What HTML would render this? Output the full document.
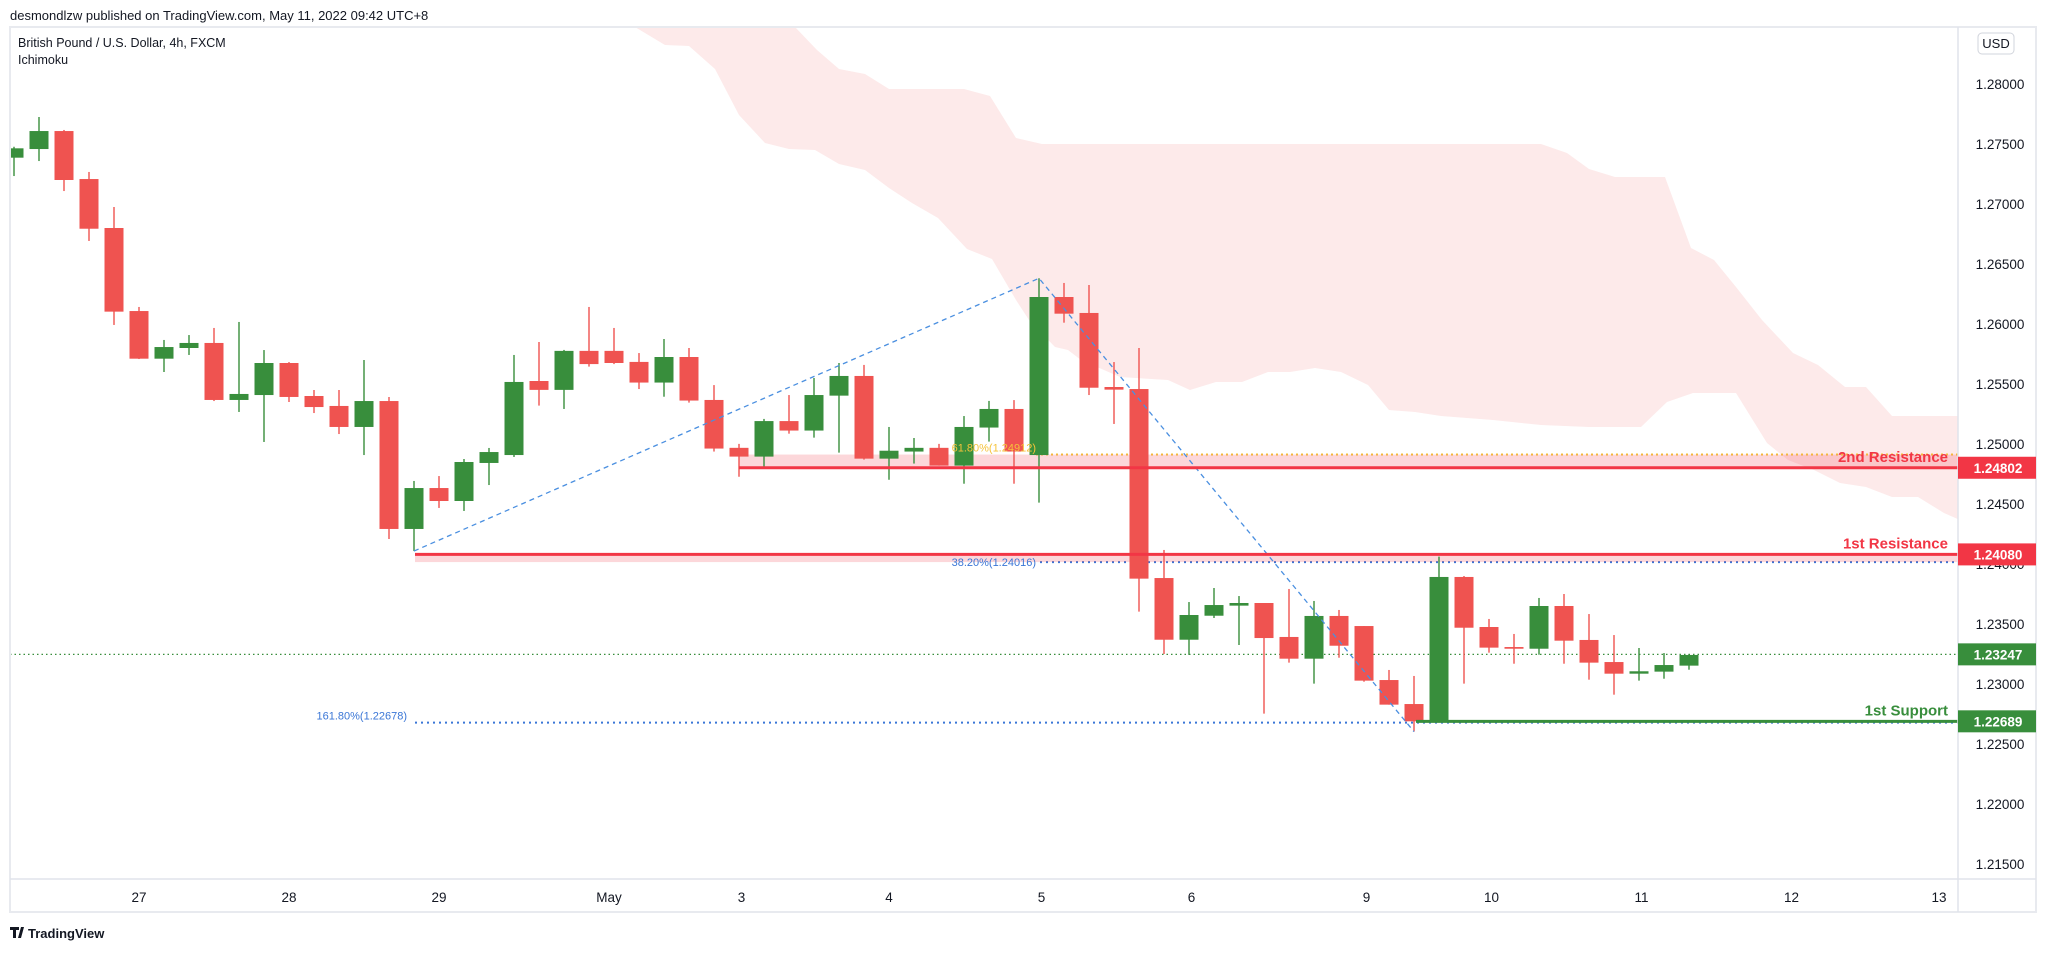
<!DOCTYPE html>
<html><head><meta charset="utf-8"><style>
html,body{margin:0;padding:0;background:#fff;}
body{width:2046px;height:950px;overflow:hidden;font-family:"Liberation Sans",sans-serif;}
svg text{font-family:"Liberation Sans",sans-serif;}
</style></head><body>
<svg id="chart" width="2046" height="950" xmlns="http://www.w3.org/2000/svg">
<text x="10" y="20" font-size="13" fill="#131722">desmondlzw published on TradingView.com, May 11, 2022 09:42 UTC+8</text>
<rect x="10" y="27" width="2026" height="885" fill="#fff" stroke="#e8eaef" stroke-width="2"/>
<defs><clipPath id="pane"><rect x="11" y="28" width="1947" height="851"/></clipPath></defs>
<g id="plot" clip-path="url(#pane)"></g>
<line x1="1958" y1="27" x2="1958" y2="912" stroke="#e0e3eb" stroke-width="1.5"/>
<line x1="10" y1="879" x2="2036" y2="879" stroke="#e0e3eb" stroke-width="1.5"/>
<g id="yaxis"></g>
<g id="xaxis"></g>
<g id="tags"></g>
<rect x="1978" y="33" width="36" height="21" rx="4" fill="#fff" stroke="#d1d4dc"/>
<text x="1996" y="48" font-size="13" fill="#131722" text-anchor="middle">USD</text>
<text x="18" y="47" font-size="12.5" fill="#131722">British Pound / U.S. Dollar, 4h, FXCM</text>
<text x="18" y="64" font-size="12.5" fill="#131722">Ichimoku</text>
<g>
<path d="M10 927h9v3h-3v8h-3v-8h-3z M21 927h3l-3 11h-3z" fill="#131722"/>
<text x="28" y="938" font-size="13" font-weight="bold" fill="#131722">TradingView</text>
</g>
</svg>
<script>
const opens=[1.27386,1.27458,1.27608,1.27208,1.26800,1.26108,1.25711,1.25800,1.25842,1.25367,1.25408,1.25675,1.25400,1.25317,1.25142,1.25358,1.24292,1.24633,1.24525,1.24842,1.24908,1.25525,1.25451,1.25776,1.25776,1.25684,1.25512,1.25725,1.25367,1.24968,1.24895,1.25191,1.25112,1.25403,1.25567,1.24878,1.24937,1.24968,1.24820,1.25137,1.25292,1.24908,1.26225,1.26092,1.25475,1.25458,1.23883,1.23369,1.23569,1.23653,1.23675,1.23392,1.23211,1.23567,1.23483,1.23033,1.22833,1.22689,1.23892,1.23475,1.23308,1.23294,1.23650,1.23367,1.23183,1.23086,1.23103,1.23153];
const highs=[1.27477,1.27725,1.27617,1.27267,1.26975,1.26142,1.25867,1.25908,1.25967,1.26017,1.25783,1.25683,1.25450,1.25450,1.25700,1.25392,1.24692,1.24733,1.24875,1.24967,1.25742,1.25850,1.25784,1.26142,1.25967,1.25758,1.25875,1.25800,1.25491,1.25001,1.25209,1.25408,1.25550,1.25675,1.25659,1.25142,1.25050,1.25001,1.25233,1.25359,1.25366,1.26381,1.26342,1.26325,1.25683,1.25800,1.24117,1.23683,1.23800,1.23733,1.23675,1.23792,1.23692,1.23617,1.23483,1.23117,1.23067,1.24061,1.23900,1.23542,1.23417,1.23717,1.23750,1.23583,1.23408,1.23300,1.23258,1.23250];
const lows=[1.27233,1.27358,1.27108,1.26692,1.25992,1.25708,1.25600,1.25742,1.25358,1.25267,1.25017,1.25350,1.25258,1.25083,1.24908,1.24208,1.24108,1.24467,1.24442,1.24658,1.24892,1.25320,1.25292,1.25645,1.25666,1.25458,1.25394,1.25345,1.24937,1.24727,1.24794,1.25086,1.25053,1.24928,1.24870,1.24702,1.24837,1.24820,1.24669,1.25020,1.24669,1.24511,1.26011,1.25408,1.25167,1.23603,1.23250,1.23242,1.23550,1.23325,1.22753,1.23178,1.23003,1.23219,1.23019,1.22828,1.22603,1.22689,1.23003,1.23261,1.23169,1.23244,1.23169,1.23036,1.22911,1.23028,1.23044,1.23119];
const closes=[1.27464,1.27608,1.27200,1.26794,1.26103,1.25711,1.25808,1.25842,1.25367,1.25417,1.25675,1.25392,1.25308,1.25142,1.25358,1.24292,1.24633,1.24525,1.24850,1.24933,1.25517,1.25451,1.25776,1.25666,1.25675,1.25512,1.25725,1.25362,1.24962,1.24895,1.25191,1.25112,1.25408,1.25567,1.24878,1.24944,1.24968,1.24820,1.25142,1.25292,1.24937,1.26225,1.26086,1.25469,1.25453,1.23878,1.23369,1.23575,1.23658,1.23675,1.23383,1.23211,1.23567,1.23319,1.23028,1.22828,1.22689,1.23892,1.23469,1.23303,1.23294,1.23650,1.23361,1.23178,1.23086,1.23106,1.23158,1.23242];
const priceTicks=["1.28000","1.27500","1.27000","1.26500","1.26000","1.25500","1.25000","1.24500","1.24000","1.23500","1.23000","1.22500","1.22000","1.21500"];
const dateLabels=["27","28","29","May","3","4","5","6","9","10","11","12","13"];
const dateIndex=[5,11,17,23.8,29.1,35,41.1,47.1,54.1,59.1,65.1,71.1,77];
// Ichimoku cloud edges: [candle index, price]
const cloudUpperIdx=[24.48,31.24,32.12,33.0,34.04,35.0,38.0,39.04,40.08,41.12,61.08,62.12,63.0,64.04,66.04,67.08,68.0,68.88,69.92,71.16,72.16,73.24,74.08,75.12,77.84];
const cloudUpperPx=[1.28533,1.28475,1.28283,1.28125,1.28083,1.27958,1.27958,1.27900,1.27550,1.27500,1.27500,1.27425,1.27292,1.27225,1.27225,1.26633,1.26533,1.26308,1.26033,1.25758,1.25658,1.25475,1.25475,1.25233,1.25233];
const cloudLowerIdx=[77.84,77.2,76.16,75.12,74.08,73.04,72.0,70.96,70.12,68.88,67.16,66.12,65.08,63.0,61.08,59.16,58.12,57.08,56.04,55.0,54.16,53.08,52.04,51.04,50.16,49.12,48.08,47.04,46.16,44.24,42.68,42.16,41.64,40.6,40.08,39.12,38.12,36.96,35.92,35.0,34.04,33.0,32.04,31.0,30.04,29.0,28.04,27.0,26.04,24.84];
const cloudLowerPx=[1.24367,1.24425,1.24558,1.24558,1.24642,1.24675,1.24783,1.24867,1.25008,1.25425,1.25425,1.25350,1.25142,1.25142,1.25158,1.25200,1.25217,1.25233,1.25267,1.25283,1.25492,1.25600,1.25633,1.25600,1.25600,1.25517,1.25517,1.25450,1.25533,1.25558,1.25700,1.25783,1.25808,1.26033,1.26200,1.26542,1.26625,1.26883,1.27008,1.27133,1.27283,1.27333,1.27450,1.27458,1.27508,1.27742,1.28125,1.28317,1.28325,1.28475];
const supportRes=[1.24802,1.24080,1.22689];
const lastPrice=1.23247;
const fibLevels=[1.24016,1.22678,1.24912];

const NS="http://www.w3.org/2000/svg";
function X(i){return 14+25*i;}
function Y(p){return 84+(1.28-p)*12000;}
function mk(tag,attrs,parent){const e=document.createElementNS(NS,tag);for(const k in attrs)e.setAttribute(k,attrs[k]);parent.appendChild(e);return e;}
const plot=document.getElementById('plot');
const RED="#ef5350",GREEN="#388e3c";

let pts=[];
for(let k=0;k<cloudUpperIdx.length;k++)pts.push(X(cloudUpperIdx[k]).toFixed(1)+","+Y(cloudUpperPx[k]).toFixed(1));
for(let k=0;k<cloudLowerIdx.length;k++)pts.push(X(cloudLowerIdx[k]).toFixed(1)+","+Y(cloudLowerPx[k]).toFixed(1));
const cloud=mk('polygon',{points:pts.join(' '),fill:"#fdeaea"},plot);



const fb1=mk('line',{x1:1040,x2:1958,y1:Y(fibLevels[0]),y2:Y(fibLevels[0]),stroke:"#3a76d6","stroke-width":2,"stroke-dasharray":"2 4"},plot);


const fb2=mk('line',{x1:415,x2:1958,y1:Y(fibLevels[1]),y2:Y(fibLevels[1]),stroke:"#3a76d6","stroke-width":2,"stroke-dasharray":"2 4"},plot);


const fb3=mk('line',{x1:1036,x2:1958,y1:Y(fibLevels[2]),y2:Y(fibLevels[2]),stroke:"#f5c33b","stroke-width":2,"stroke-dasharray":"2 3"},plot);



const z2=mk('rect',{x:739,y:Y(fibLevels[2]),width:1219,height:Y(supportRes[0])-Y(fibLevels[2]),fill:"rgba(242,54,69,0.2)"},plot);


const z1=mk('rect',{x:415,y:Y(supportRes[1]),width:1543,height:Y(fibLevels[0])-Y(supportRes[1]),fill:"rgba(242,54,69,0.2)"},plot);



const cp=mk('line',{x1:10,x2:1958,y1:Y(lastPrice),y2:Y(lastPrice),stroke:GREEN,"stroke-width":1.3,"stroke-dasharray":"1.5 3"},plot);



for(let i=0;i<opens.length;i++){
  const up=closes[i]>=opens[i],c=up?GREEN:RED,x=X(i);
  const g=mk('g',{},plot);
  
  
  mk('line',{x1:x,x2:x,y1:Y(highs[i]),y2:Y(lows[i]),stroke:c,"stroke-width":1.4},g);
  const t=Y(Math.max(opens[i],closes[i])),b=Y(Math.min(opens[i],closes[i]));
  mk('rect',{x:x-9.5,y:t,width:19,height:Math.max(b-t,1.5),fill:c},g);
}

const fl=mk('polyline',{points:X(16)+","+Y(lows[16])+" "+X(41)+","+Y(highs[41])+" "+X(56)+","+Y(lows[56]),fill:"none",stroke:"#4a8fe0","stroke-width":1.3,"stroke-dasharray":"5 4"},plot);



const srNames=['resistance-2-line','resistance-1-line','support-1-line'];
const srStart=[739,415,1416];
const srCol=["#f23645","#f23645",GREEN];
const srLabel=["2nd Resistance","1st Resistance","1st Support"];
for(let k=0;k<3;k++){
  const l=mk('line',{x1:srStart[k],x2:1958,y1:Y(supportRes[k]),y2:Y(supportRes[k]),stroke:srCol[k],"stroke-width":3},plot);
  
  
  const t=mk('text',{x:1948,y:Y(supportRes[k])-6,"text-anchor":"end","font-size":15,"font-weight":"bold",fill:srCol[k]},plot);
  t.textContent=srLabel[k];
  
  
}
const ft=[["38.20%(1.24016)",1036,Y(fibLevels[0])+4,"#3a76d6","fib-38-label"],["161.80%(1.22678)",407,Y(fibLevels[1])-3,"#3a76d6","fib-161-label"],["61.80%(1.24912)",1036,Y(fibLevels[2])-3,"#f5c33b","fib-61-label"]];
for(const f of ft){
  const t=mk('text',{x:f[1],y:f[2],"text-anchor":"end","font-size":11,fill:f[3]},plot);
  t.textContent=f[0];
  
  
}

const ya=document.getElementById('yaxis');
for(const s of priceTicks){
  const t=mk('text',{x:2000,y:Y(parseFloat(s))+5,"text-anchor":"middle","font-size":13.5,fill:"#131722"},ya);
  t.textContent=s;
  
  
}
const xa=document.getElementById('xaxis');
for(let k=0;k<dateLabels.length;k++){
  const t=mk('text',{x:X(dateIndex[k]),y:902,"text-anchor":"middle","font-size":13.5,fill:"#131722"},xa);
  t.textContent=dateLabels[k];
  
  
}
const tg=document.getElementById('tags');
const tagP=[supportRes[0],supportRes[1],lastPrice,supportRes[2]];
const tagC=["#f23645","#f23645",GREEN,GREEN];
const tagN=['resistance-2-price-tag','resistance-1-price-tag','last-price-tag','support-1-price-tag'];
for(let k=0;k<4;k++){
  const g=mk('g',{},tg);
  
  
  mk('rect',{x:1958,y:Y(tagP[k])-11,width:78,height:22,fill:tagC[k]},g);
  const t=mk('text',{x:1998,y:Y(tagP[k])+5,"text-anchor":"middle","font-size":13.5,"font-weight":"bold",fill:"#fff"},g);
  t.textContent=tagP[k].toFixed(5);
}
</script>
</body></html>
